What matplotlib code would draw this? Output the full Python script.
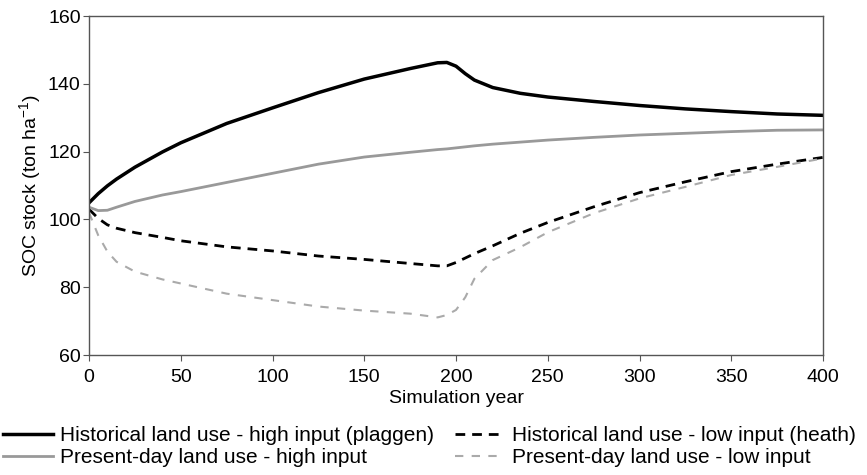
import matplotlib
matplotlib.use("Agg")
import matplotlib.pyplot as plt

plt.rcParams["font.family"] = ["Liberation Sans", "DejaVu Sans"]

# Simulated SOC stocks (ton/ha) per simulation year
years = [0, 5, 10, 15, 25, 40, 50, 75, 100, 125, 150, 175, 190, 195, 200,
         205, 210, 220, 235, 250, 275, 300, 325, 350, 375, 400]

hist_high = [104.9, 107.6, 109.9, 111.9, 115.4, 119.9, 122.6, 128.3, 132.9,
             137.4, 141.4, 144.5, 146.2, 146.3, 145.2, 143.0, 141.1, 138.9,
             137.2, 136.1, 134.8, 133.6, 132.6, 131.8, 131.1, 130.7]
present_high = [103.6, 102.6, 102.7, 103.6, 105.3, 107.2, 108.2, 110.9, 113.6,
                116.3, 118.4, 119.8, 120.6, 120.8, 121.1, 121.4, 121.7, 122.2,
                122.8, 123.4, 124.2, 124.9, 125.4, 125.9, 126.3, 126.4]
hist_low = [103.0, 100.3, 98.4, 97.4, 96.1, 94.7, 93.7, 91.9, 90.7, 89.2,
            88.2, 87.0, 86.3, 86.3, 87.3, 88.6, 89.9, 92.2, 95.9, 99.1,
            103.7, 107.9, 111.1, 114.1, 116.3, 118.3]
present_low = [102.0, 95.3, 90.5, 87.5, 84.6, 82.3, 81.1, 78.1, 76.2, 74.3,
               73.1, 72.2, 71.1, 71.8, 73.3, 77.0, 82.5, 88.0, 91.8, 96.2,
               101.8, 106.2, 109.6, 113.1, 115.5, 118.0]

labels = ["Historical land use - high input (plaggen)",
          "Present-day land use - high input",
          "Historical land use - low input (heath)",
          "Present-day land use - low input"]

fig = plt.figure(figsize=(8.67, 4.75), dpi=100)
ax = fig.add_axes([0.1027, 0.2526, 0.8466, 0.7137])

l1, = ax.plot(years, hist_high, color="black", lw=2.5)
l2, = ax.plot(years, hist_low, color="black", lw=2.0, dashes=(3.5, 2.5))
l3, = ax.plot(years, present_high, color="#999999", lw=2.0)
l4, = ax.plot(years, present_low, color="#aaaaaa", lw=1.5, dashes=(4, 4))

ax.set_xlim(0, 400)
ax.set_ylim(60, 160)
ax.set_xticks(range(0, 401, 50))
ax.set_yticks(range(60, 161, 20))
ax.tick_params(labelsize=14, direction="out", length=4, color="#555555",
               top=False, right=False)
ax.tick_params(axis="x", pad=6)
ax.tick_params(axis="y", pad=2)
for s in ax.spines.values():
    s.set_color("#555555")
    s.set_linewidth(1.0)

ax.set_xlabel("Simulation year", fontsize=14, labelpad=3)
ax.set_ylabel("SOC stock (ton ha$^{\\mathregular{-1}}$)", fontsize=14, labelpad=3)

# two-column legend under the axes (filled column by column)
fig.legend([l1, l3, l2, l4], labels, ncol=2, loc="upper left",
           bbox_to_anchor=(0.0035, 0.103), frameon=False, fontsize=15,
           handlelength=2.4, handletextpad=0.35, columnspacing=1.0,
           labelspacing=0.15, borderpad=0.0, borderaxespad=0.0)

fig.savefig("out.png", dpi=100)
